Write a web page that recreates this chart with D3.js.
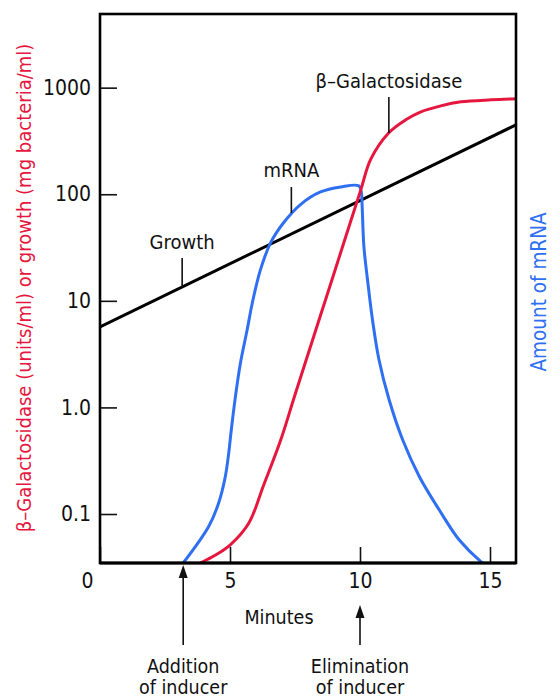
<!DOCTYPE html>
<html>
<head>
<meta charset="utf-8">
<script src="https://cdn.jsdelivr.net/npm/d3@7"></script>
<style>
  html, body { margin: 0; padding: 0; background: #fff; }
  svg { display: block; }
  text { font-family: "DejaVu Sans Condensed", "DejaVu Sans", sans-serif; font-stretch: condensed; fill: #111; }
</style>
</head>
<body>
<svg id="chart" width="552" height="700"></svg>
<script>
// Time axis (minutes)
const xTicks = [0, 5, 10, 15];
const xTickLabels = ["0", "5", "10", "15"];

// Log-scale value axis
const yTicks = [0.1, 1, 10, 100, 1000];
const yTickLabels = ["0.1", "1.0", "10", "100", "1000"];

// Growth (mg bacteria/ml): exponential, a straight line on the log axis
const growthT = [0, 16];
const growthV = [5.7, 448];

// β-Galactosidase (units/ml)
const galT = [3.86, 4.43, 5.01, 5.72, 6.30, 6.94, 7.44, 7.71, 8.87, 10.03, 10.41, 11.11, 11.76, 12.34, 13.11, 13.88, 15.04, 16.0];
const galV = [0.0347, 0.041, 0.0514, 0.082, 0.188, 0.486, 1.18, 1.90, 14.4, 110, 212, 377, 499, 593, 675, 736, 769, 785];

// Amount of mRNA
const mrnaT = [3.20, 4.18, 4.56, 4.82, 4.95, 5.05, 5.21, 5.40, 5.66, 5.86, 6.17, 6.56, 7.06, 7.71, 8.48, 9.26, 9.95, 10.05, 10.08, 10.15, 10.29, 10.48, 10.73, 11.12, 11.64, 12.28, 13.05, 13.82, 14.65, 14.73];
const mrnaV = [0.0347, 0.0764, 0.126, 0.225, 0.372, 0.617, 1.27, 2.60, 5.35, 9.6, 19.5, 35, 54, 80, 105, 117, 120, 105, 80, 32.3, 15.7, 6.64, 2.80, 1.18, 0.497, 0.225, 0.109, 0.057, 0.0358, 0.0347];

const RED = "#e6173f";
const BLUE = "#2f6ff2";
const FONT = '"DejaVu Sans Condensed", "DejaVu Sans", sans-serif';

const svg = d3.select("#chart");

const plot = { left: 100, right: 516, top: 14, bottom: 563 };

const x = d3.scaleLinear().domain([0, 16]).range([plot.left, plot.right]);
const y = d3.scaleLog().domain([0.0347, 4910]).range([plot.bottom, plot.top]);

const zip = (ts, vs) => ts.map((t, i) => ({ t, v: vs[i] }));

const smooth = d3.line()
  .x(d => x(d.t))
  .y(d => y(d.v))
  .curve(d3.curveCatmullRom.alpha(0.5));

// Clip curves to the plotting area
svg.append("clipPath").attr("id", "plotClip")
  .append("rect")
  .attr("x", plot.left).attr("y", plot.top)
  .attr("width", plot.right - plot.left).attr("height", plot.bottom - plot.top);

// Curves
const curves = svg.append("g").attr("clip-path", "url(#plotClip)");
curves.append("path")
  .datum(zip(growthT, growthV))
  .attr("d", d3.line().x(d => x(d.t)).y(d => y(d.v)))
  .attr("fill", "none").attr("stroke", "#000").attr("stroke-width", 3);
curves.append("path")
  .datum(zip(mrnaT, mrnaV))
  .attr("d", smooth)
  .attr("fill", "none").attr("stroke", BLUE).attr("stroke-width", 3)
  .attr("stroke-linejoin", "round");
curves.append("path")
  .datum(zip(galT, galV))
  .attr("d", smooth)
  .attr("fill", "none").attr("stroke", RED).attr("stroke-width", 3)
  .attr("stroke-linejoin", "round");

// Axes with inward ticks
const yAxis = d3.axisLeft(y)
  .tickValues(yTicks)
  .tickFormat((d, i) => yTickLabels[i])
  .tickSizeInner(-17)
  .tickSizeOuter(0)
  .tickPadding(9);
const gy = svg.append("g").attr("transform", `translate(${plot.left},0)`).call(yAxis);

const xAxis = d3.axisBottom(x)
  .tickValues(xTicks)
  .tickFormat((d, i) => xTickLabels[i])
  .tickSizeInner(-16)
  .tickSizeOuter(0)
  .tickPadding(10);
const gx = svg.append("g").attr("transform", `translate(0,${plot.bottom})`).call(xAxis);

[gx, gy].forEach(g => {
  g.select(".domain").remove();
  g.selectAll(".tick line").attr("stroke", "#111").attr("stroke-width", 1.6);
  g.selectAll(".tick text").attr("font-size", 21).attr("fill", "#111")
    .style("font-family", FONT);
});
// the origin label sits left of the corner
gx.selectAll(".tick").filter(d => d === 0).select("text").attr("dx", -13);

// Frame
svg.append("rect")
  .attr("x", plot.left).attr("y", plot.top)
  .attr("width", plot.right - plot.left).attr("height", plot.bottom - plot.top)
  .attr("fill", "none").attr("stroke", "#000").attr("stroke-width", 2.6);
svg.append("line")
  .attr("x1", plot.left).attr("x2", plot.right)
  .attr("y1", plot.bottom).attr("y2", plot.bottom)
  .attr("stroke", "#000").attr("stroke-width", 3.2);

// Axis titles
svg.append("text")
  .attr("transform", `translate(31,${(46 + 530) / 2}) rotate(-90)`)
  .attr("text-anchor", "middle")
  .attr("font-size", 20)
  .style("fill", RED)
  .text("β–Galactosidase (units/ml) or growth (mg bacteria/ml)");

svg.append("text")
  .attr("transform", `translate(546,292) rotate(-90)`)
  .attr("text-anchor", "middle")
  .attr("font-size", 20.5)
  .style("fill", BLUE)
  .text("Amount of mRNA");

svg.append("text")
  .attr("x", 279).attr("y", 624)
  .attr("text-anchor", "middle")
  .attr("font-size", 19.5)
  .text("Minutes");

// Curve labels with leader lines
const labels = [
  { text: "β–Galactosidase", t: 11.11, ty: 88, y1: 97, y2: 133 },
  { text: "mRNA", t: 7.36, ty: 177, y1: 187, y2: 213 },
  { text: "Growth", t: 3.16, ty: 249, y1: 258, y2: 287 }
];
labels.forEach(l => {
  svg.append("text")
    .attr("x", x(l.t)).attr("y", l.ty)
    .attr("text-anchor", "middle")
    .attr("font-size", 20)
    .text(l.text);
  svg.append("line")
    .attr("x1", x(l.t)).attr("x2", x(l.t))
    .attr("y1", l.y1).attr("y2", l.y2)
    .attr("stroke", "#111").attr("stroke-width", 1.6);
});

// Inducer event arrows
const events = [
  { t: 3.2, tip: 565, lines: ["Addition", "of inducer"] },
  { t: 10.0, tip: 605, lines: ["Elimination", "of inducer"] }
];
events.forEach(e => {
  const ex = x(e.t);
  svg.append("line")
    .attr("x1", ex).attr("x2", ex)
    .attr("y1", e.tip + 8).attr("y2", 645)
    .attr("stroke", "#111").attr("stroke-width", 1.6);
  svg.append("path")
    .attr("d", `M${ex},${e.tip} L${ex - 4.5},${e.tip + 13} L${ex + 4.5},${e.tip + 13} Z`)
    .attr("fill", "#111");
  e.lines.forEach((s, i) => {
    svg.append("text")
      .attr("x", ex).attr("y", 673 + i * 21)
      .attr("text-anchor", "middle")
      .attr("font-size", 19.5)
      .text(s);
  });
});
</script>
</body>
</html>
